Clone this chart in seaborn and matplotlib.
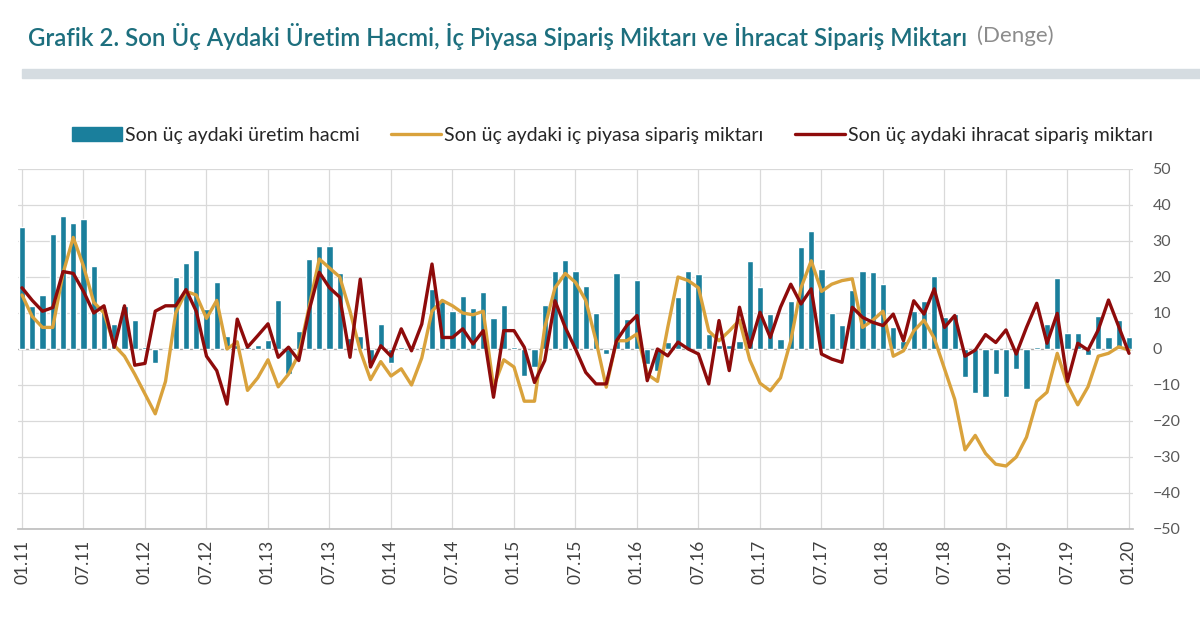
import numpy as np
import pandas as pd
import matplotlib
matplotlib.use("Agg")
import matplotlib.pyplot as plt
import seaborn as sns
from matplotlib.patches import Patch, Rectangle
from matplotlib.lines import Line2D

# aylik seriler, 01.11 - 01.20 (109 ay)
uretim = [34, 12, 15, 32, 37, 35, 36, 23, 11, 7, 12, 8,
          0.5, -4, 0, 20, 24, 27.5, 11, 18.5, 3.5, 1, 0.5, 1,
          2.5, 13.5, -7, 5, 25, 28.5, 28.5, 21, 3, 3.5, -4, 7,
          -4, 0.5, 0.5, 0.5, 16.7, 13.4, 10.6, 14.8, 11.4, 15.7, 8.6, 12.3,
          0.5, -7.4, -5, 12.3, 21.8, 24.7, 21.8, 17.6, 10, -1.4, 21.1, 8.3,
          19.3, -4.2, -6, 2, 14.5, 21.8, 20.8, 4.2, 1, 1, 2.3, 24.4,
          17.3, 9.7, 2.8, 13.4, 28.4, 32.7, 22.2, 10, 6.8, 16.4, 21.8, 21.3,
          18, 6, 2.3, 10.6, 13.4, 20.4, 8.8, 9.7, -7.7, -12.3, -13.2, -7,
          -13.2, -5.6, -11, 0.5, 6.9, 19.6, 4.5, 4.5, -1.7, 9.2, 3.4, 8,
          3.4]

ic_piyasa = [15, 9, 6, 6, 21, 31, 23, 13, 10, 1, -2, -7,
             -12.5, -18, -9, 10, 16, 15, 8.5, 13.5, 0, 2, -11.5, -8,
             -3, -10.5, -7, -1.5, 11.5, 25, 22.5, 20, 10.5, -0.5, -8.5, -3.5,
             -7.5, -5.5, -10, -2.5, 10.5, 13.5, 12, 10, 9.5, 10.5, -10.5, -3,
             -5, -14.5, -14.5, 6, 17, 21, 18.5, 13.5, 2.3, -10.6, 2.3, 2.3,
             4.2, -7, -9, 6, 20, 19, 17, 5, 2.3, 5, 8, -3,
             -9.5, -11.6, -8, 2.3, 17, 24.5, 16, 18, 19, 19.5, 6, 8,
             10.5, -2, -0.5, 5, 8, 3, -5.5, -14, -28, -24, -29, -32,
             -32.5, -30, -24.5, -14.5, -12, -1.2, -10, -15.5, -10.5, -2, -1.2, 0.6,
             -0.3]

ihracat = [17, 13.5, 10.5, 11.5, 21.5, 21, 16, 10, 12, 0.5, 12, -4.5,
           -4, 10.5, 12, 12, 16.5, 10.5, -2, -6, -15.3, 8.3, 0.5, 3.7,
           7, -2.3, 0.5, -3.2, 10.6, 21.3, 17, 14.4, -2.3, 19.4, -5, 0.9,
           -2, 5.6, -0.5, 6.9, 23.6, 3.2, 3.2, 5.6, 1.4, 5.1, -13.4, 5.1,
           5.1, 0.5, -9.3, -3.2, 13.4, 6, 0, -6.5, -9.7, -9.7, 2.3, 6.5,
           9.3, -8.8, 0, -1.9, 1.9, 0, -1.4, -9.7, 7.9, -6, 11.6, 0.5,
           10.2, 3.2, 11.6, 18, 12.5, 16.7, -1.4, -2.8, -3.7, 11.6, 8.8, 7.4,
           6.5, 9.7, 2.3, 13.4, 9.7, 16.7, 6, 9.3, -2, -0.3, 4, 1.8,
           5.3, -1.4, 6, 12.7, 1.6, 9.9, -9, 1.6, -0.3, 5.3, 13.6, 6.2,
           -1.2]

tarih_etiket = ["01.11", "07.11", "01.12", "07.12", "01.13", "07.13", "01.14",
                "07.14", "01.15", "07.15", "01.16", "07.16", "01.17", "07.17",
                "01.18", "07.18", "01.19", "07.19", "01.20"]

lbl_uretim = "Son üç aydaki üretim hacmi"
lbl_ic = "Son üç aydaki iç piyasa sipariş miktarı"
lbl_ihr = "Son üç aydaki ihracat sipariş miktarı"

c_bar = "#1A7F9C"
c_ic = "#D9A23C"
c_ihr = "#8E0B0B"

df = pd.DataFrame({"ay": np.arange(len(uretim)), "uretim": uretim,
                   "ic": ic_piyasa, "ihracat": ihracat})

sns.set_theme(style="white")
plt.rcParams["font.family"] = ["Lato", "DejaVu Sans"]

fig = plt.figure(figsize=(12, 6.26), dpi=100)
ax = fig.add_axes([17.9 / 1200, 1 - 529 / 626, 1115.2 / 1200, 360 / 626])

sns.barplot(data=df, x="ay", y="uretim", native_scale=True, color=c_bar,
            saturation=1, width=0.62, errorbar=None, ax=ax, zorder=2)
sns.lineplot(data=df, x="ay", y="ic", color=c_ic, lw=2.4, ax=ax, zorder=3)
sns.lineplot(data=df, x="ay", y="ihracat", color=c_ihr, lw=2.4, ax=ax, zorder=4)

ax.axhline(0, color="#A6A6A6", lw=1, zorder=1)
ax.set_xlim(-0.4, 108.4)
ax.set_ylim(-50, 50)
ax.set_yticks(range(-50, 51, 10))
ax.set_xticks(range(0, 109, 6))
ax.set_xticklabels(tarih_etiket, rotation=90)
ax.set_xlabel("")
ax.set_ylabel("")
ax.yaxis.tick_right()
ax.grid(True, color="#D9D9D9", lw=0.9, zorder=0)
ax.set_axisbelow(True)
for s in ["left", "right", "top"]:
    ax.spines[s].set_visible(False)
ax.spines["bottom"].set_color("#BFBFBF")
ax.tick_params(axis="y", length=0, pad=14, labelcolor="#595959", labelsize=11.5)
ax.tick_params(axis="x", length=0, pad=8, labelcolor="#404040", labelsize=12.5)

# baslik
t = fig.text(28 / 1200, 1 - 36 / 626, "Grafik 2. Son Üç Aydaki Üretim Hacmi, İç Piyasa Sipariş Miktarı ve İhracat Sipariş Miktarı",
             fontsize=17.3, color="#1D6F7E", fontweight="semibold", va="center", ha="left")
fig.canvas.draw()
bb = t.get_window_extent()
fig.text((bb.x1 + 10) / 1200, 1 - 36 / 626, "(Denge)", fontsize=16, color="#8C8C8C",
         va="center", ha="left")

fig.patches.append(Rectangle((22 / 1200, 1 - 78 / 626), 1 - 22 / 1200, 9 / 626,
                             transform=fig.transFigure, color="#D5DCE1", zorder=0))

handles = [Patch(color=c_bar), Line2D([], [], color=c_ic, lw=2.4),
           Line2D([], [], color=c_ihr, lw=2.4)]
fig.legend(handles, [lbl_uretim, lbl_ic, lbl_ihr], loc="center left",
           bbox_to_anchor=(0.045, 1 - 135 / 626), ncol=3, frameon=False,
           fontsize=14, handlelength=2.6, handleheight=0.7, handletextpad=0.15,
           columnspacing=1.6, labelcolor="#262626")

fig.savefig("out.png", dpi=100)
